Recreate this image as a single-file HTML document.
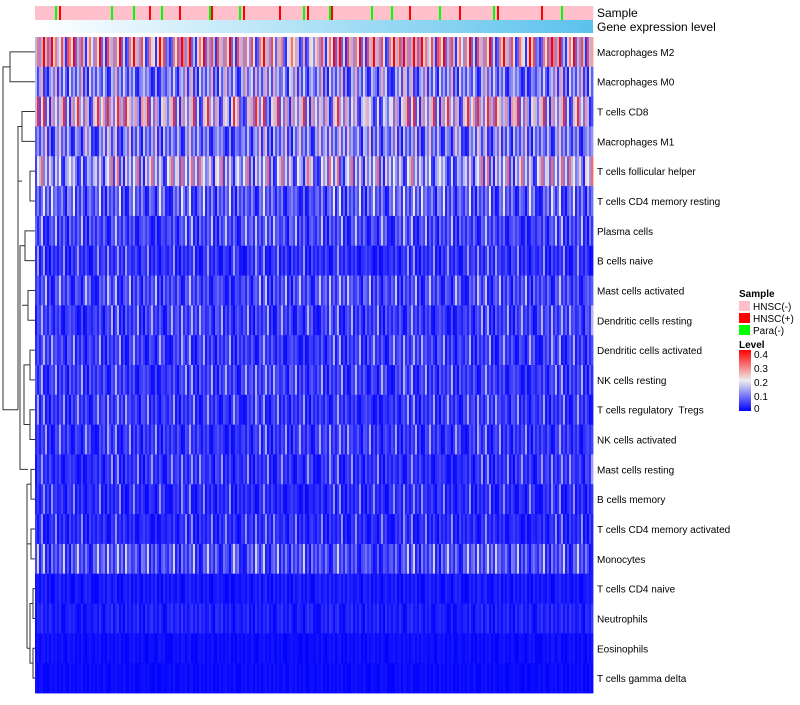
<!DOCTYPE html>
<html><head><meta charset="utf-8"><style>
body{margin:0;background:#fff;font-family:"Liberation Sans",sans-serif;}
svg text{font-family:"Liberation Sans",sans-serif;}
</style></head><body>
<svg id="chart" width="800" height="700" xmlns="http://www.w3.org/2000/svg">
<defs>
<linearGradient id="gexp" x1="0" x2="1" y1="0" y2="0"><stop offset="0" stop-color="#ffffff"/><stop offset="1" stop-color="#5bc2ec"/></linearGradient>
<linearGradient id="lev" x1="0" x2="0" y1="1" y2="0"><stop offset="0" stop-color="#0000ff"/><stop offset="0.5" stop-color="#eeeeee"/><stop offset="1" stop-color="#ff0000"/></linearGradient>
</defs>
<g id="cells"></g>
<g id="samplebar"></g>
<rect x="35" y="20" width="558" height="13" fill="url(#gexp)"/>
<text x="597" y="17" font-size="12">Sample</text>
<text x="597" y="31" font-size="12">Gene expression level</text>
<g id="rowlabels"></g>
<g id="dendro" stroke="#333" stroke-width="1" fill="none"></g>
<g font-size="10">
<text x="739" y="297" font-weight="bold">Sample</text>
<rect x="739" y="301" width="11" height="10" fill="#ffc0cb"/>
<text x="753" y="310">HNSC(-)</text>
<rect x="739" y="313" width="11" height="10" fill="#ff0000"/>
<text x="753" y="322">HNSC(+)</text>
<rect x="739" y="325" width="11" height="10" fill="#00ff00"/>
<text x="753" y="334">Para(-)</text>
<text x="739" y="348" font-weight="bold">Level</text>
<rect x="739" y="350" width="12" height="61" fill="url(#lev)"/>
<text x="754" y="358">0.4</text><text x="754" y="372">0.3</text><text x="754" y="386">0.2</text><text x="754" y="400">0.1</text><text x="754" y="412">0</text>
</g>
</svg>
<script>
const rowNames=["Macrophages M2","Macrophages M0","T cells CD8","Macrophages M1","T cells follicular helper","T cells CD4 memory resting","Plasma cells","B cells naive","Mast cells activated","Dendritic cells resting","Dendritic cells activated","NK cells resting","T cells regulatory \u00a0Tregs","NK cells activated","Mast cells resting","B cells memory","T cells CD4 memory activated","Monocytes","T cells CD4 naive","Neutrophils","Eosinophils","T cells gamma delta"];
const rowMeans=[0.21,0.11,0.17,0.10,0.14,0.075,0.06,0.04,0.06,0.05,0.05,0.05,0.045,0.045,0.04,0.035,0.035,0.065,0.02,0.025,0.012,0.01];
const noise="39175028461592730481627394058172639047182536409281573640295817364029581736402958173640928173546092817354609281735460928173546092817354602918374650291837465029183746502918374651846203957";
const samples="nnnnnnnnnnanpnnnnnnnnnnnnnnnnnnnnnnnnnannnnnnnnnnannnnnnnpnnnnnannnnnnnnpnnnnnnnnnnnnnnapnnnnnnnnnnnnnanpnnnnnnnnnnnnnnnnnpnnnnnnnnnnnanpnnnnnnnnnnapnnnnnnnnnnnnnnnnnnnannnnnnnnnannnnnnnnpnnnnnnnnnnnnnnannnnnnnnnpnnnnnnnnnnnnnnnnanpnnnnnnnnnnnnnnnnnnnnnpnnnnnnnnnannnnnnnnnnnnnnnnnnnnnn";
const NC=279, X0=35, W=558, Y0=37, H=656;
const cw=W/NC, rh=H/rowNames.length;
function color(v){v=Math.max(0,Math.min(0.4,v));let r,g,b;
 if(v<0.2){const t=v/0.2;r=238*t;g=238*t;b=255-17*t;}else{const t=(v-0.2)/0.2;r=238+17*t;g=238*(1-t);b=238*(1-t);}
 return `rgb(${r|0},${g|0},${b|0})`;}
const NS="http://www.w3.org/2000/svg";
const cells=document.getElementById('cells');
rowNames.forEach((name,i)=>{
 for(let c=0;c<NC;c++){
  const n=+noise[(c*3+i*37)%noise.length];
  const v=rowMeans[i]*(0.2+1.6*n/9)+(n===9&&rowMeans[i]>0.03?0.06:0);
  const r=document.createElementNS(NS,'rect');
  
  
  r.setAttribute('x',X0+c*cw);r.setAttribute('y',Y0+i*rh);
  r.setAttribute('width',cw+0.4);r.setAttribute('height',rh+0.4);
  r.setAttribute('fill',color(v));cells.appendChild(r);
 }
 const t=document.createElementNS(NS,'text');
 
 
 t.setAttribute('x',597);t.setAttribute('y',Y0+(i+0.5)*rh+4);t.setAttribute('font-size','10');
 t.textContent=name;document.getElementById('rowlabels').appendChild(t);
});
const sb=document.getElementById('samplebar');
const sc={n:"#ffc0cb",p:"#ff0000",a:"#00ff00"};
for(let c=0;c<NC;c++){const s=samples[c%samples.length];
 const r=document.createElementNS(NS,'rect');
 
 
 r.setAttribute('x',X0+c*cw);r.setAttribute('y',6);r.setAttribute('width',cw+0.3);r.setAttribute('height',14);
 r.setAttribute('fill',sc[s]);sb.appendChild(r);}
const yc=i=>Y0+(i+0.5)*rh;
const d=document.getElementById('dendro');
function seg(x1,y1,x2,y2){const l=document.createElementNS(NS,'path');
 l.setAttribute('d',`M${x1},${y1}H${x2}V${y2}H${x1}`);d.appendChild(l);}
seg(35,yc(0),10,yc(1));
seg(35,yc(2),22,yc(3));
seg(22,(yc(2)+yc(3))/2,18,yc(4)+10);
seg(35,yc(4),30,yc(5));
const lines=[[35,yc(6),25,yc(7)],[35,yc(8),28,yc(9)],[35,yc(10),30,yc(11)],[35,yc(12),30,yc(13)],[35,yc(14),31,yc(15)],[35,yc(16),31,yc(17)],[35,yc(18),33,yc(19)],[35,yc(20),33,yc(21)]];
lines.forEach(a=>seg(...a));
const l=document.createElementNS(NS,'path');
l.setAttribute('d',`M10,${(yc(0)+yc(1))/2}H3V${yc(12)}H8 M18,${yc(4)}V${yc(12)} M8,${yc(12)}H18 M25,${(yc(6)+yc(7))/2}H20V${yc(14)}H28 M28,${yc(9)-15}H22 M30,${yc(11)-15}H24V${yc(13)-15}H30 M31,${yc(15)-15}H27 M31,${yc(17)-15}H27 M27,${yc(15)-15}V${yc(20)} M33,${yc(19)-15}H30V${yc(21)-15}H33 M30,${yc(20)}H27`);
d.appendChild(l);
</script>
</body></html>
